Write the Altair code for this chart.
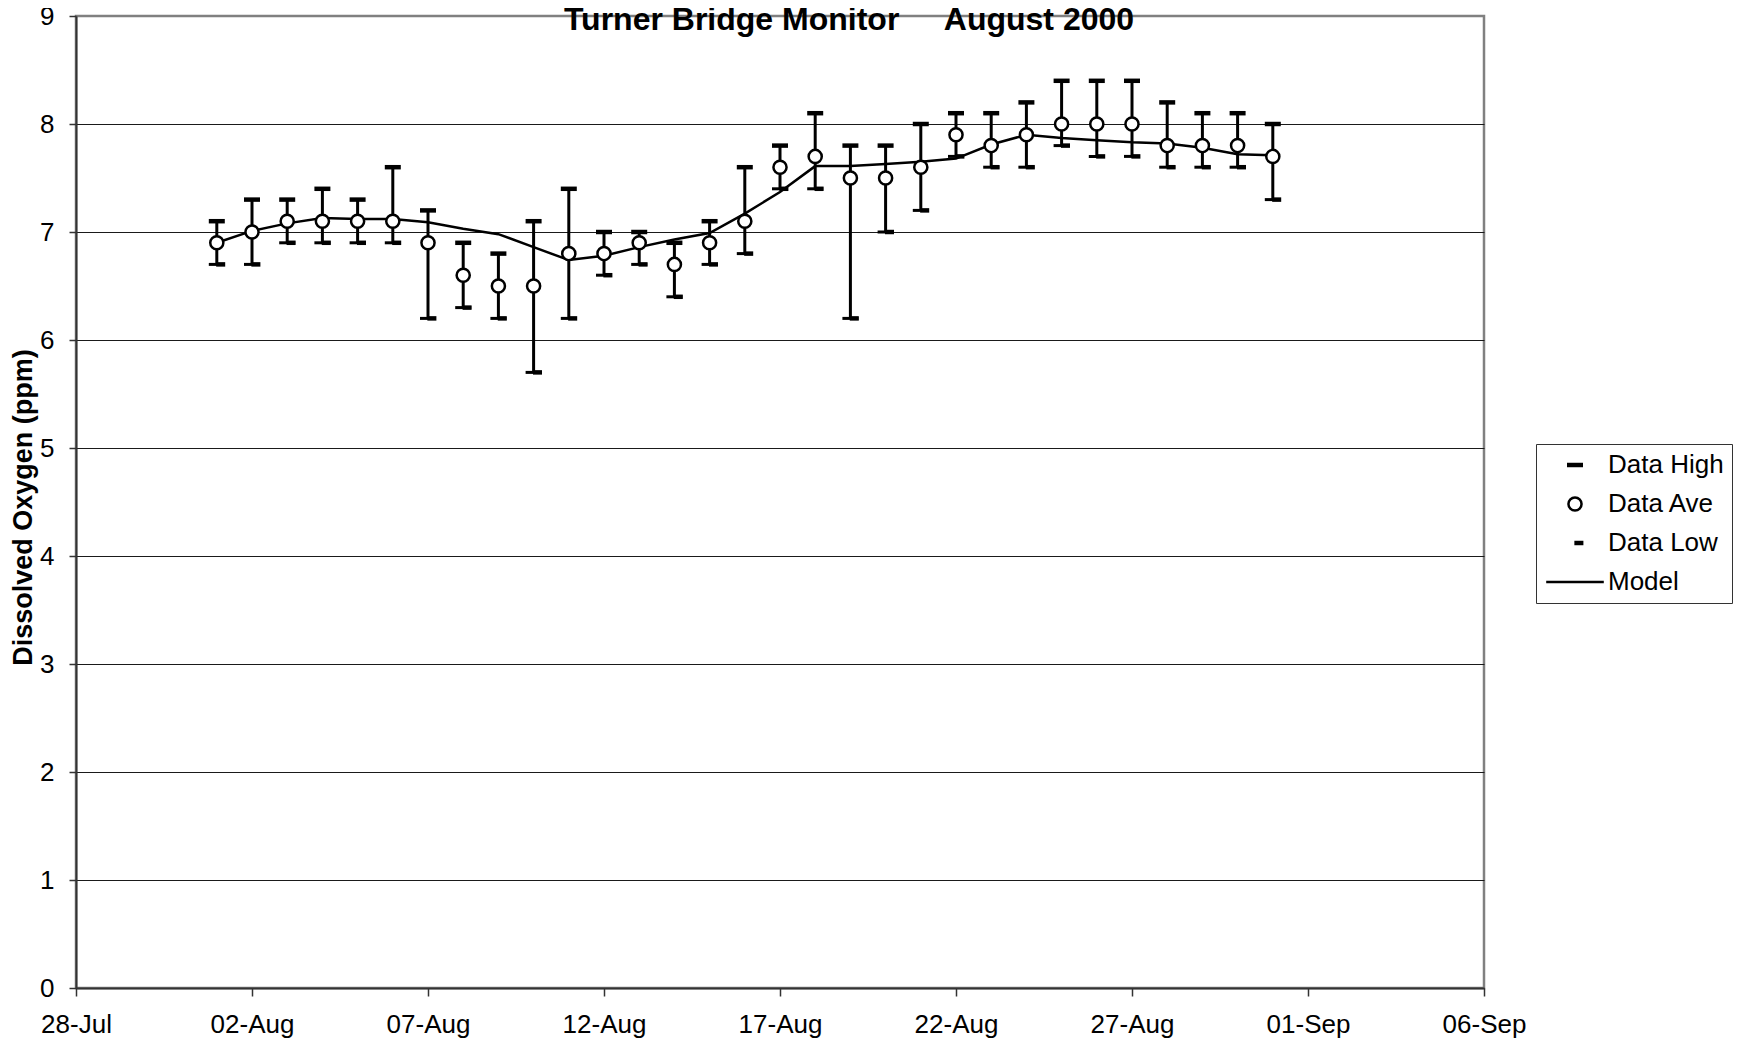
import altair as alt
import pandas as pd

FONT = "Liberation Sans"

dates = ["2000-08-01", "2000-08-02", "2000-08-03", "2000-08-04", "2000-08-05",
         "2000-08-06", "2000-08-07", "2000-08-08", "2000-08-09", "2000-08-10",
         "2000-08-11", "2000-08-12", "2000-08-13", "2000-08-14", "2000-08-15",
         "2000-08-16", "2000-08-17", "2000-08-18", "2000-08-19", "2000-08-20",
         "2000-08-21", "2000-08-22", "2000-08-23", "2000-08-24", "2000-08-25",
         "2000-08-26", "2000-08-27", "2000-08-28", "2000-08-29", "2000-08-30",
         "2000-08-31"]
data_high = [7.1, 7.3, 7.3, 7.4, 7.3, 7.6, 7.2, 6.9, 6.8, 7.1,
             7.4, 7.0, 7.0, 6.9, 7.1, 7.6, 7.8, 8.1, 7.8, 7.8,
             8.0, 8.1, 8.1, 8.2, 8.4, 8.4, 8.4, 8.2, 8.1, 8.1, 8.0]
data_ave = [6.9, 7.0, 7.1, 7.1, 7.1, 7.1, 6.9, 6.6, 6.5, 6.5,
            6.8, 6.8, 6.9, 6.7, 6.9, 7.1, 7.6, 7.7, 7.5, 7.5,
            7.6, 7.9, 7.8, 7.9, 8.0, 8.0, 8.0, 7.8, 7.8, 7.8, 7.7]
data_low = [6.7, 6.7, 6.9, 6.9, 6.9, 6.9, 6.2, 6.3, 6.2, 5.7,
            6.2, 6.6, 6.7, 6.4, 6.7, 6.8, 7.4, 7.4, 6.2, 7.0,
            7.2, 7.7, 7.6, 7.6, 7.8, 7.7, 7.7, 7.6, 7.6, 7.6, 7.3]
model = [6.90, 7.01, 7.08, 7.13, 7.12, 7.12, 7.09, 7.03, 6.98, 6.86,
         6.74, 6.78, 6.86, 6.93, 6.99, 7.17, 7.37, 7.61, 7.61, 7.63,
         7.65, 7.68, 7.81, 7.90, 7.87, 7.85, 7.83, 7.82, 7.78, 7.72, 7.71]

tick_dates = ["2000-07-28", "2000-08-02", "2000-08-07", "2000-08-12", "2000-08-17",
              "2000-08-22", "2000-08-27", "2000-09-01", "2000-09-06"]
y_ticks = [0, 1, 2, 3, 4, 5, 6, 7, 8, 9]
series = ["Data High", "Data Ave", "Data Low", "Model"]
title_text = "Turner Bridge Monitor\u00a0\u00a0\u00a0\u00a0\u00a0August 2000"
y_title = "Dissolved Oxygen (ppm)"

# marker shapes / colours per series
shape_paths = [
    "M-1,-0.28H1V0.28H-1Z",
    "M0.82,0A0.82,0.82 0 1,1 -0.82,0A0.82,0.82 0 1,1 0.82,0Z",
    "M-0.08,-0.28H1.05V0.28H-0.08Z",
    "M-3.6,0H3.6",
]
fills = ["black", "white", "black", "transparent"]
strokes = ["transparent", "black", "transparent", "black"]

df = pd.DataFrame({"date": dates, "high": data_high, "ave": data_ave,
                   "low": data_low, "model": model})
pts = pd.concat([
    pd.DataFrame({"date": dates, "value": data_high, "series": series[0]}),
    pd.DataFrame({"date": dates, "value": data_ave, "series": series[1]}),
    pd.DataFrame({"date": dates, "value": data_low, "series": series[2]}),
], ignore_index=True)


def utc_dt(s):
    y, m, d = map(int, s.split("-"))
    return alt.DateTime(year=y, month=m, date=d, utc=True)


x_scale = alt.Scale(type="utc", domain=[utc_dt(tick_dates[0]), utc_dt(tick_dates[-1])])
x_axis = alt.Axis(values=[utc_dt(t) for t in tick_dates], format="%d-%b",
                  labelFontSize=26, labelFont=FONT, labelColor="black",
                  tickSize=8, tickColor="#333", tickWidth=1.5,
                  domainColor="#333", domainWidth=2, labelPadding=15,
                  grid=False, title=None, labelOverlap=False, labelFlush=False)
y_scale = alt.Scale(domain=[0, 9], nice=False, zero=True)
y_axis = alt.Axis(values=y_ticks, labelFontSize=26, labelFont=FONT, labelColor="black",
                  tickSize=7, tickColor="#333", tickWidth=1.5, labelPadding=15,
                  gridColor={"condition": {"test": "datum.value === 9", "value": "#808080"},
                             "value": "#1a1a1a"},
                  gridWidth=1, domainColor="#333", domainWidth=2,
                  title=y_title, titleFont=FONT, titleFontSize=27, titleFontWeight="bold",
                  titleColor="black", titleAngle=270, titleX=-53, titleY=491,
                  titleAlign="center", titleBaseline="middle")

x_enc = alt.X("date:T", scale=x_scale, axis=x_axis)

base = alt.Chart(df)
bars = base.mark_rule(color="black", strokeWidth=3).encode(
    x=x_enc, y=alt.Y("low:Q", scale=y_scale, axis=y_axis), y2="high:Q")
caps = base.mark_tick(orient="horizontal", size=16, thickness=3, color="black", opacity=1).encode(
    x=x_enc, y=alt.Y("low:Q", scale=y_scale, axis=y_axis))
line = base.mark_line(color="black", strokeWidth=2.5).encode(
    x=x_enc, y=alt.Y("model:Q", scale=y_scale, axis=y_axis))

legend = alt.Legend(title=None, orient="none", legendX=1460, legendY=428,
                    padding=8, rowPadding=13, symbolOffset=18, labelOffset=20,
                    labelFont=FONT, labelFontSize=26, labelColor="black",
                    strokeColor="#333", fillColor="white", symbolSize=256,
                    symbolStrokeWidth=2.5, symbolOpacity=1)

points = alt.Chart(pts).mark_point(filled=True, opacity=1, size=256, strokeWidth=2.5).encode(
    x=x_enc,
    y=alt.Y("value:Q", scale=y_scale, axis=y_axis),
    shape=alt.Shape("series:N", scale=alt.Scale(domain=series, range=shape_paths), legend=legend),
    fill=alt.Fill("series:N", scale=alt.Scale(domain=series, range=fills), legend=legend),
    stroke=alt.Stroke("series:N", scale=alt.Scale(domain=series, range=strokes), legend=legend),
)

title_df = pd.DataFrame({"t": [title_text]})
title_layer = alt.Chart(title_df).mark_text(
    font=FONT, fontSize=32, fontWeight="bold", color="black",
    align="center", baseline="alphabetic").encode(
    text="t:N", x=alt.value(773), y=alt.value(14))

chart = alt.layer(bars, caps, line, points, title_layer).properties(
    width=1408, height=972,
    autosize=alt.AutoSizeParams(type="none"),
    padding={"left": 68, "top": 8, "right": 256, "bottom": 50},
).configure(font=FONT).configure_view(stroke="#808080", strokeWidth=2.5)

chart.save("out.html", embed_options={"renderer": "svg", "actions": False})
